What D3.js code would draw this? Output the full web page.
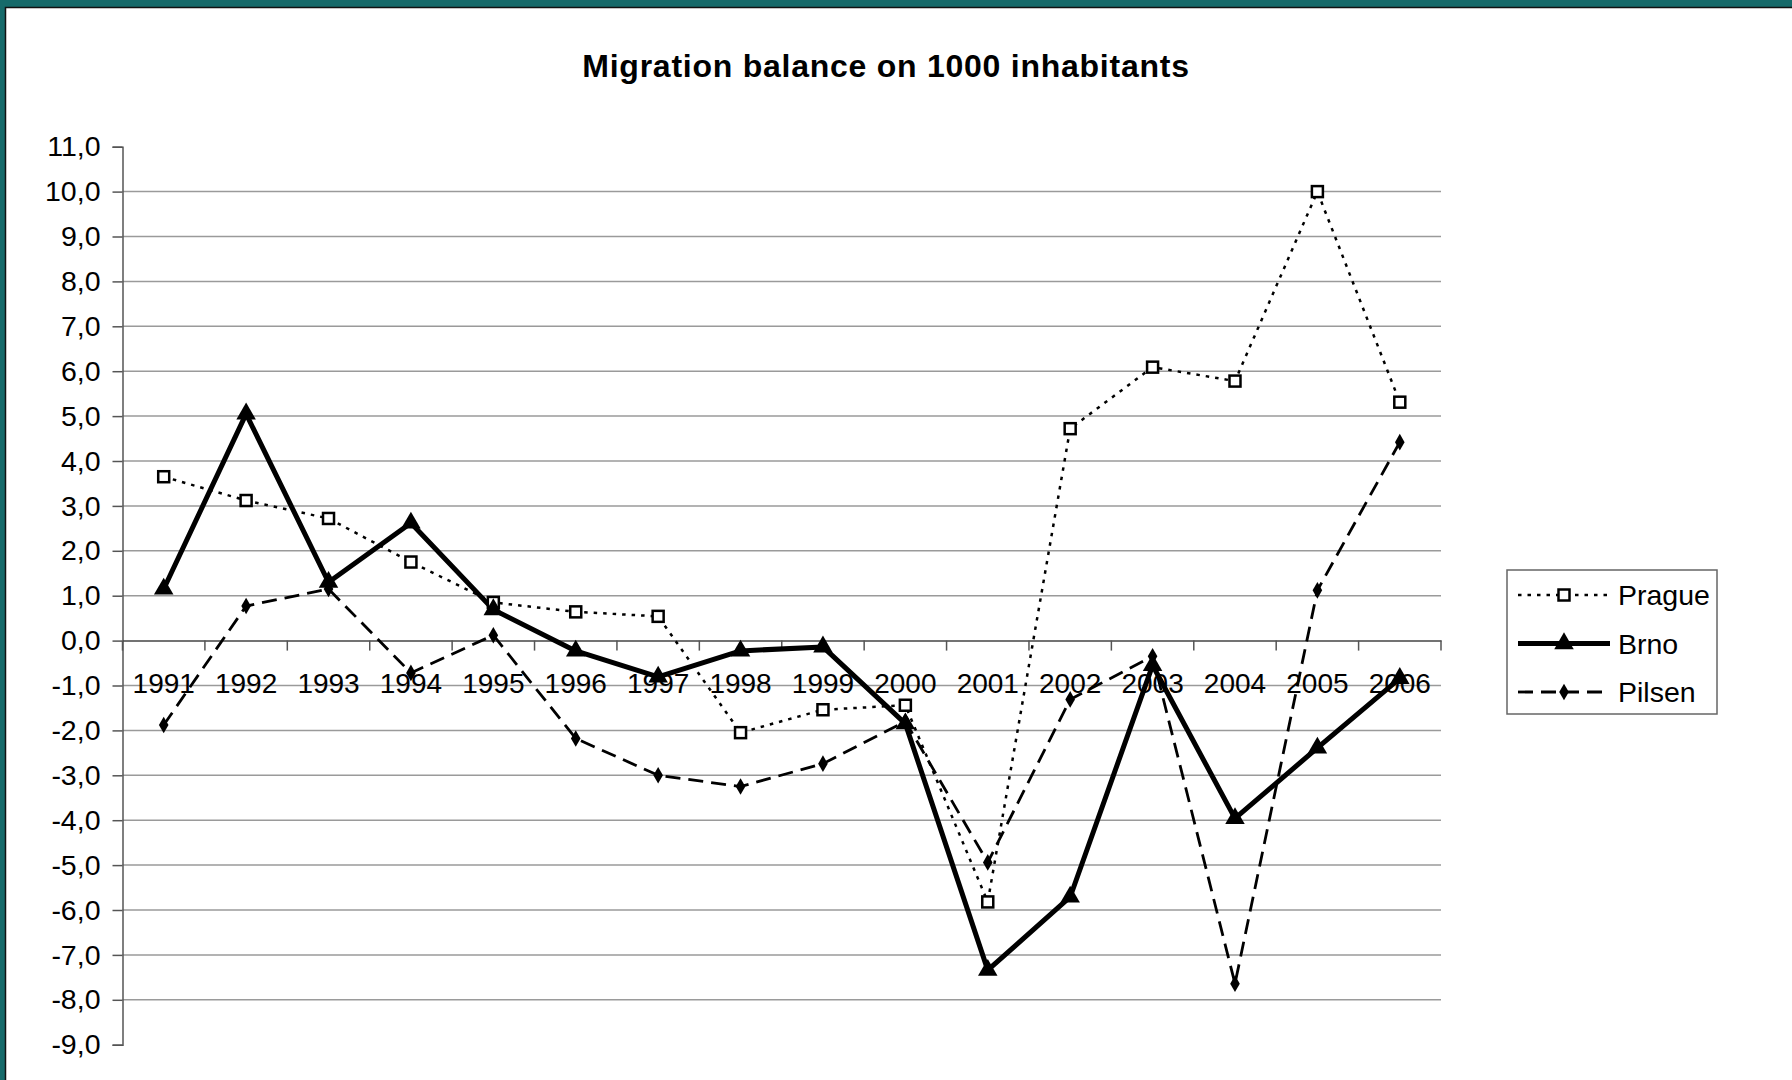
<!DOCTYPE html>
<html>
<head>
<meta charset="utf-8">
<script src="https://cdn.jsdelivr.net/npm/d3@7"></script>
<style>
  body { margin: 0; background: #fff; }
  svg { display: block; font-family: "Liberation Sans", Arial, sans-serif; }
</style>
</head>
<body>
<div id="chart-area"></div>
<script>
const years = ["1991", "1992", "1993", "1994", "1995", "1996", "1997", "1998",
  "1999", "2000", "2001", "2002", "2003", "2004", "2005", "2006"];
const prague = [3.65, 3.12, 2.72, 1.75, 0.85, 0.64, 0.54, -2.05, -1.54, -1.44, -5.82, 4.72, 6.09, 5.78, 10.0, 5.31];
const brno = [1.15, 5.05, 1.3, 2.62, 0.69, -0.23, -0.81, -0.23, -0.14, -1.85, -7.34, -5.71, -0.55, -3.96, -2.39, -0.84];
const pilsen = [-1.88, 0.77, 1.15, -0.72, 0.12, -2.18, -3.0, -3.25, -2.74, -1.8, -4.94, -1.31, -0.35, -7.64, 1.12, 4.42];
const yTicks = d3.range(-9, 12);
const title = "Migration balance on 1000 inhabitants";

const canvasWidth = 1792;
const canvasHeight = 1080;
const margin = {left: 122.5, top: 146.7, right: 351, bottom: 35.3};
const chartWidth = canvasWidth - margin.left - margin.right;
const chartHeight = canvasHeight - margin.top - margin.bottom;

const canvas = d3.select("#chart-area").append("svg").attr("width", canvasWidth).attr("height", canvasHeight);

// teal slide frame on top and left
canvas.append("rect").attr("width", canvasWidth).attr("height", canvasHeight).attr("fill", "#166a6a");
canvas.append("rect").attr("x", 6).attr("y", 8).attr("width", canvasWidth).attr("height", canvasHeight).attr("fill", "#fff");
canvas.append("path").attr("d", `M5.5,${canvasHeight} V7.5 H${canvasWidth}`).attr("fill", "none").attr("stroke", "#111").attr("stroke-width", 1.5);

canvas.append("text")
  .attr("x", 886).attr("y", 77)
  .attr("text-anchor", "middle")
  .attr("font-size", "32px").attr("font-weight", "bold").attr("letter-spacing", "0.75px")
  .text(title);

const chartGroup = canvas.append("g").attr("transform", `translate(${margin.left}, ${margin.top})`);

const xScale = d3.scaleBand().domain(years).range([0, chartWidth]);
const yScale = d3.scaleLinear().domain([11, -9]).range([0, chartHeight]);
const xMid = d => xScale(d) + xScale.bandwidth() / 2;

// gridlines
chartGroup.selectAll(".grid").data(yTicks.filter(t => t > -9 && t < 11 && t !== 0)).enter()
  .append("line")
  .attr("x1", 0).attr("x2", chartWidth)
  .attr("y1", d => yScale(d)).attr("y2", d => yScale(d))
  .attr("stroke", "#9a9a9a").attr("stroke-width", 1.5);

const yAxis = d3.axisLeft(yScale).tickValues(yTicks).tickSize(10).tickPadding(12)
  .tickFormat(d => d3.format(".1f")(d).replace(".", ",").replace("−", "-"));
const yG = chartGroup.append("g").call(yAxis);
yG.select(".domain").attr("stroke", "#555").attr("stroke-width", 1.5);
yG.selectAll(".tick line").attr("stroke", "#555").attr("stroke-width", 1.5);
yG.selectAll("text").attr("font-size", "28.5px").attr("font-family", "Liberation Sans, Arial, sans-serif").attr("fill", "#000");

const xAxis = d3.axisBottom(xScale).tickSize(0).tickPadding(33);
const xG = chartGroup.append("g").attr("transform", `translate(0, ${yScale(0)})`).call(xAxis);
xG.select(".domain").attr("stroke", "#444").attr("stroke-width", 1.5);
xG.selectAll("text").attr("font-size", "28px").attr("font-family", "Liberation Sans, Arial, sans-serif").attr("fill", "#000");
// x tick marks sit on band boundaries
xG.selectAll(".sep").data(years.map((d, i) => i).concat([years.length])).enter()
  .append("line")
  .attr("x1", i => i * xScale.step()).attr("x2", i => i * xScale.step())
  .attr("y1", 0).attr("y2", 10)
  .attr("stroke", "#555").attr("stroke-width", 1.5);

const series = [
  {name: "Prague", values: prague, width: 2.5, dash: "3.5,6", marker: "square"},
  {name: "Brno", values: brno, width: 5, dash: null, marker: "triangle"},
  {name: "Pilsen", values: pilsen, width: 2.8, dash: "15,8", marker: "diamond"}
];

const line = d3.line().x((d, i) => xMid(years[i])).y(d => yScale(d));

function drawMarker(g, type, x, y) {
  if (type === "square") {
    g.append("rect").attr("x", x - 5.5).attr("y", y - 5.5).attr("width", 11).attr("height", 11)
      .attr("fill", "#fff").attr("stroke", "#000").attr("stroke-width", 2.5);
  } else if (type === "triangle") {
    g.append("path").attr("d", d3.symbol(d3.symbolTriangle, 165)()).attr("transform", `translate(${x},${y})`).attr("fill", "#000");
  } else {
    g.append("path").attr("d", d3.symbol(d3.symbolDiamond, 80)()).attr("transform", `translate(${x},${y})`).attr("fill", "#000");
  }
}

series.forEach(s => {
  chartGroup.append("path")
    .datum(s.values)
    .attr("d", line)
    .attr("fill", "none")
    .attr("stroke", "#000")
    .attr("stroke-width", s.width)
    .attr("stroke-dasharray", s.dash)
    .attr("stroke-linejoin", "round");
});
series.forEach(s => {
  const mg = chartGroup.append("g");
  s.values.forEach((v, i) => drawMarker(mg, s.marker, xMid(years[i]), yScale(v)));
});

// legend
const legend = canvas.append("g");
legend.append("rect").attr("x", 1507).attr("y", 570).attr("width", 210).attr("height", 144)
  .attr("fill", "#fff").attr("stroke", "#666").attr("stroke-width", 1.5);
series.forEach((s, i) => {
  const ly = 595 + i * 48.5;
  legend.append("line").attr("x1", 1518).attr("x2", 1610).attr("y1", ly).attr("y2", ly)
    .attr("stroke", "#000").attr("stroke-width", s.width).attr("stroke-dasharray", s.dash);
  drawMarker(legend, s.marker, 1564, ly);
  legend.append("text").attr("x", 1618).attr("y", ly + 10).attr("font-size", "28.5px").text(s.name);
});
</script>
</body>
</html>
